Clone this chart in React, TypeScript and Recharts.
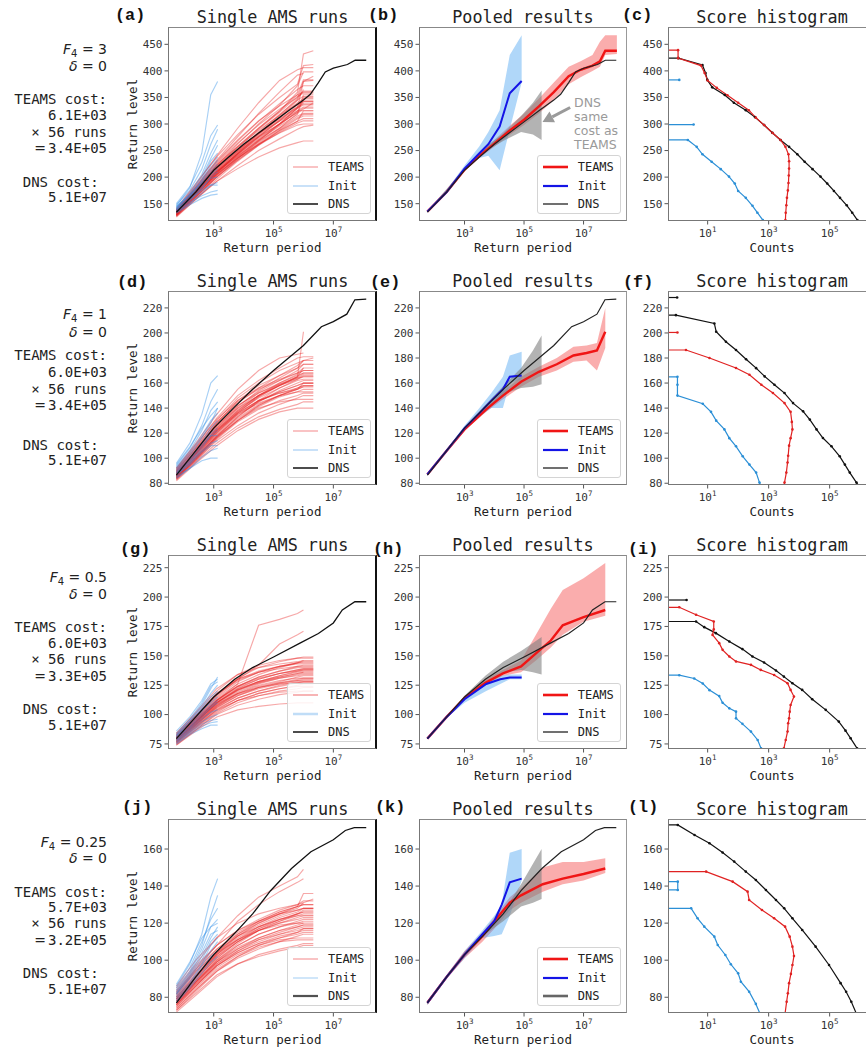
import React from 'react';
import { ComposedChart, Line, Area, XAxis, YAxis, ReferenceLine } from 'recharts';

// ---------------- layout / fonts ----------------
const MONO = '"DejaVu Sans Mono", monospace';
const SANS = '"DejaVu Sans", sans-serif';
const BOLDMONO = '"Liberation Mono", "Courier New", monospace';
const COL_X = [168, 419, 668];
const COL_W = [209, 208, 208];
const ROW_Y = [27, 291, 555, 819];
const BOX_H = 194;
const YW = 50, MT = 4, MR = 4, XH = 36;

// ---------------- text ----------------
const TITLES = ['Single AMS runs', 'Pooled results', 'Score histogram'];
const LETTERS = [['(a)', '(b)', '(c)'], ['(d)', '(e)', '(f)'], ['(g)', '(h)', '(i)'], ['(j)', '(k)', '(l)']];
const LETTER_X = [[115, 368, 622], [117, 370, 623], [120, 373, 628], [122, 375, 628]];
const LETTER_DY = [-11, -8.5, -5, -11];
const ROW_F4 = ['3', '1', '0.5', '0.25'];
const ROW_COST = ['6.1E+03', '6.0E+03', '6.0E+03', '5.7E+03'];
const ROW_TOTAL = ['3.4E+05', '3.4E+05', '3.3E+05', '3.2E+05'];
const DNS_COST = '5.1E+07';
const ROW_TEXT_DY = [
  [22, 39, 72, 88, 105, 121, 154.5, 170],
  [22.6, 41, 64.3, 81, 97.6, 114, 154, 169],
  [22, 39, 72, 88, 104, 121, 154, 170],
  [22.7, 39, 72.7, 88, 104, 121, 154, 170],
];

// ---------------- axes ----------------
const Y_DOMAINS: [number, number][] = [[117.4, 482.6], [78.6, 233.5], [70.7, 235.8], [71.5, 176.2]];
const Y_TICKS = [
  [150, 200, 250, 300, 350, 400, 450],
  [80, 100, 120, 140, 160, 180, 200, 220],
  [75, 100, 125, 150, 175, 200, 225],
  [80, 100, 120, 140, 160],
];
const RP_DOMAIN: [number, number] = [10 ** 1.47, 10 ** 8.46];
const RP_TICKS = [1e3, 1e5, 1e7];
const COUNT_DOMAIN: [number, number] = [10 ** -0.3, 10 ** 6.52];
const COUNT_TICKS = [1e1, 1e3, 1e5];

// ---------------- single AMS runs (log10 return period grids) ----------------
const RUN_LOGT = [1.75, 2.4, 3.1, 3.8, 4.5, 5.2, 5.8, 6.0, 6.33];
const INIT_LOGT = [1.75, 2.2, 2.6, 2.9, 3.13];

const RUNS_A_TEAMS = [
  [130, 168, 212, 248, 285, 318, 345, 352, 352],
  [134, 172, 215, 250, 282, 305, 325, 332, 332],
  [128, 162, 200, 232, 262, 288, 305, 310, 310],
  [138, 180, 228, 268, 305, 338, 365, 372, 372],
  [126, 158, 192, 222, 250, 272, 290, 295, 298],
  [136, 176, 222, 262, 300, 335, 372, 398, 398],
  [140, 186, 240, 292, 340, 382, 402, 406, 406],
  [132, 170, 210, 240, 268, 292, 320, 328, 340],
  [129, 164, 202, 235, 262, 283, 298, 300, 300],
  [133, 171, 214, 248, 276, 300, 322, 355, 355],
  [137, 178, 224, 258, 292, 325, 355, 383, 383],
  [127, 160, 192, 216, 238, 255, 265, 268, 268],
  [135, 174, 218, 252, 283, 310, 332, 345, 345],
  [139, 183, 230, 270, 306, 334, 355, 360, 360],
  [131, 168, 206, 238, 266, 292, 315, 320, 320],
  [134, 172, 210, 242, 272, 300, 330, 336, 336],
  [136, 178, 222, 258, 292, 324, 360, 432, 438],
  [128, 164, 204, 236, 264, 290, 312, 318, 318],
  [141, 188, 238, 280, 318, 350, 375, 410, 412],
  [130, 166, 206, 244, 280, 312, 340, 348, 348],
  [133, 170, 208, 240, 270, 298, 325, 325, 325],
  [125, 158, 196, 230, 260, 288, 310, 315, 315],
  [137, 180, 226, 264, 298, 328, 350, 362, 362],
  [132, 168, 205, 236, 262, 286, 305, 325, 325],
  [129, 166, 208, 246, 282, 316, 348, 380, 382],
  [135, 175, 220, 256, 288, 316, 338, 342, 342],
  [131, 166, 204, 238, 270, 296, 318, 350, 350],
  [136, 174, 212, 244, 276, 306, 330, 380, 390],
  [127, 162, 200, 234, 268, 300, 330, 340, null],
  [138, 176, 216, 250, 282, 312, 345, 365, null],
  [131, 169, 210, 245, 278, 308, 332, 338, 338],
  [135, 176, 220, 255, 290, 322, 352, 358, 358],
  [129, 163, 200, 232, 260, 284, 302, 306, 306],
  [137, 181, 232, 276, 320, 360, 392, 395, null],
  [133, 170, 211, 244, 274, 300, 322, 330, 330],
  [130, 167, 208, 242, 276, 306, 336, 342, 342],
];
const RUNS_A_INIT = [
  [140, 158, 175, 185, 190], [135, 152, 165, 172, 175], [132, 148, 160, 166, 168],
  [145, 165, 188, 205, 215], [138, 160, 185, 210, 225], [142, 168, 200, 235, 260],
  [148, 175, 215, 262, 290], [150, 182, 228, 278, 298], [136, 155, 178, 200, 210],
  [144, 170, 205, 245, 270], [146, 180, 245, 355, 380], [139, 162, 195, 230, 245],
  [141, 165, 190, 215, 232], [137, 158, 180, 198, 200], [143, 166, 192, 222, 238],
  [134, 150, 170, 185, 185],
];

const RUNS_D_TEAMS = [
  [86, 100, 118, 132, 143, 150, 155, 157, 157],
  [88, 104, 124, 140, 152, 160, 166, 168, 168],
  [84, 98, 114, 126, 136, 143, 148, 150, 150],
  [90, 108, 130, 148, 160, 170, 176, 178, 178],
  [83, 97, 112, 124, 133, 139, 143, 145, 145],
  [92, 112, 135, 155, 170, 180, 183, 184, null],
  [87, 103, 122, 138, 150, 159, 165, 172, 172],
  [85, 100, 118, 133, 145, 154, 160, 162, 162],
  [89, 106, 128, 146, 158, 166, 172, 175, 175],
  [82, 96, 110, 122, 131, 137, 140, 140, 140],
  [91, 110, 132, 150, 162, 172, 180, 181, 181],
  [86, 102, 120, 135, 146, 152, 156, 158, 158],
  [88, 105, 126, 142, 153, 162, 168, 170, 170],
  [84, 99, 116, 130, 141, 149, 153, 155, 155],
  [87, 104, 124, 139, 150, 158, 165, 201, null],
  [85, 101, 119, 134, 145, 153, 158, 160, 160],
  [90, 107, 127, 142, 152, 159, 164, 165, 165],
  [83, 98, 115, 129, 139, 146, 150, 152, 152],
  [89, 105, 123, 137, 148, 156, 162, 163, 163],
  [86, 101, 117, 130, 140, 145, 147, 147, 147],
  [92, 111, 131, 146, 156, 163, 168, 172, null],
  [87, 103, 121, 135, 144, 150, 153, 153, 153],
  [85, 101, 120, 136, 149, 158, 165, 168, 168],
  [88, 106, 128, 145, 155, 162, 170, 175, 175],
  [84, 100, 117, 131, 142, 150, 155, 160, 160],
  [90, 108, 126, 140, 150, 158, 163, 166, 166],
  [86, 103, 122, 136, 146, 152, 155, 157, null],
  [89, 105, 125, 141, 154, 164, 172, 178, 180],
  [87, 104, 123, 138, 150, 160, 167, 170, 170],
  [85, 99, 116, 130, 142, 150, 156, 158, 158],
  [91, 109, 129, 144, 156, 166, 174, 178, null],
  [84, 99, 117, 133, 146, 156, 163, 165, 165],
  [88, 104, 122, 136, 146, 153, 158, 160, 160],
  [86, 102, 121, 137, 149, 158, 164, 167, 167],
];
const RUNS_D_INIT = [
  [85, 92, 98, 100, 100], [88, 97, 106, 112, 114], [90, 100, 112, 120, 124],
  [92, 104, 118, 130, 136], [86, 96, 108, 118, 122], [94, 108, 126, 145, 155],
  [96, 112, 135, 160, 166], [89, 99, 112, 124, 130], [87, 95, 105, 110, 110],
  [91, 102, 116, 128, 140], [93, 106, 122, 138, 145], [84, 92, 101, 106, 108],
  [95, 109, 124, 134, 140], [88, 98, 110, 118, 118],
];

const RUNS_G_TEAMS = [
  [78, 92, 108, 118, 125, 129, 131, 131, 131],
  [80, 96, 114, 126, 134, 140, 144, 145, 145],
  [76, 89, 103, 112, 118, 122, 124, 124, 124],
  [82, 99, 118, 131, 140, 145, 148, 149, 149],
  [75, 87, 100, 108, 113, 117, 119, 120, 120],
  [79, 94, 112, 126, 176, 181, 186, 189, null],
  [81, 97, 116, 130, 142, 160, 168, 171, null],
  [77, 91, 106, 116, 123, 127, 129, 129, 129],
  [80, 95, 112, 124, 132, 137, 141, 142, 142],
  [78, 93, 110, 121, 128, 133, 136, 137, 137],
  [76, 90, 105, 114, 120, 124, 127, 128, 128],
  [84, 101, 120, 134, 142, 146, 148, 148, 148],
  [79, 94, 112, 124, 132, 137, 140, 140, 140],
  [77, 91, 107, 118, 124, 128, 132, 133, 133],
  [81, 97, 115, 128, 136, 141, 143, 143, 143],
  [74, 87, 101, 110, 116, 120, 122, 123, 123],
  [82, 98, 117, 130, 137, 141, 144, 146, 146],
  [78, 92, 108, 119, 126, 131, 134, 135, 135],
  [80, 95, 111, 122, 128, 132, 135, 136, null],
  [76, 89, 104, 114, 120, 125, 128, 128, 128],
  [83, 99, 118, 130, 136, 139, 141, 141, 141],
  [77, 90, 104, 112, 116, 119, 120, 120, 120],
  [79, 94, 110, 121, 127, 131, 133, 134, 134],
  [81, 96, 112, 123, 130, 135, 138, 139, 139],
  [75, 88, 102, 112, 118, 122, 125, 126, 126],
  [80, 94, 109, 118, 123, 126, 127, 127, 127],
  [84, 102, 122, 134, 140, 143, 145, 146, null],
  [78, 93, 110, 122, 130, 135, 137, 138, 138],
  [74, 86, 98, 104, 107, 109, 110, 110, 110],
  [79, 93, 109, 120, 127, 132, 135, 136, 136],
  [81, 96, 113, 124, 131, 135, 138, 139, 139],
  [77, 91, 106, 116, 122, 126, 129, 130, 130],
  [83, 99, 117, 129, 136, 141, 144, 144, 144],
  [78, 92, 107, 117, 123, 127, 130, 131, 131],
  [80, 94, 110, 121, 128, 133, 137, 138, 138],
];
const RUNS_G_INIT = [
  [78, 86, 94, 98, 100], [80, 90, 102, 112, 118], [82, 94, 108, 122, 132],
  [76, 84, 90, 93, 94], [79, 88, 98, 106, 110], [84, 96, 110, 124, 128],
  [77, 85, 92, 95, 96], [81, 92, 105, 115, 120], [83, 95, 106, 118, 125],
  [75, 83, 88, 91, 91], [80, 89, 100, 108, 112], [86, 98, 112, 126, 130],
  [78, 87, 96, 102, 104], [82, 92, 104, 110, 115],
];

const RUNS_J_TEAMS = [
  [76, 86, 97, 104, 109, 112, 114, 115, 115],
  [80, 91, 104, 114, 121, 126, 129, 130, 130],
  [73, 82, 92, 98, 102, 105, 107, 108, 108],
  [85, 98, 112, 124, 134, 140, 145, 149, null],
  [78, 89, 102, 111, 118, 123, 126, 128, 128],
  [82, 95, 108, 121, 130, 137, 142, 144, null],
  [75, 85, 96, 103, 108, 111, 112, 112, 112],
  [79, 90, 103, 113, 120, 125, 128, 131, 133],
  [77, 88, 100, 108, 114, 118, 120, 121, 121],
  [83, 95, 106, 114, 120, 125, 129, 136, 136],
  [74, 84, 95, 102, 107, 110, 111, 111, 111],
  [81, 93, 105, 113, 118, 122, 124, 124, 124],
  [76, 87, 99, 108, 114, 118, 121, 122, 122],
  [72, 81, 91, 98, 103, 106, 108, 109, 109],
  [79, 90, 101, 110, 117, 122, 125, 126, 126],
  [84, 97, 108, 116, 122, 127, 130, 132, 132],
  [77, 87, 97, 104, 109, 113, 115, 116, 116],
  [80, 91, 102, 110, 116, 119, 120, 120, 120],
  [75, 86, 98, 106, 112, 116, 119, 120, null],
  [82, 94, 104, 111, 116, 120, 122, 123, 123],
  [78, 88, 98, 105, 110, 114, 117, 118, 118],
  [86, 100, 112, 120, 125, 128, 130, 131, null],
  [74, 84, 94, 101, 106, 110, 113, 114, 114],
  [81, 92, 103, 111, 117, 121, 124, 125, 125],
  [76, 88, 100, 109, 116, 121, 125, 127, 127],
  [79, 89, 99, 106, 111, 114, 116, 117, 117],
  [83, 96, 108, 116, 121, 125, 127, 128, 128],
  [73, 83, 94, 102, 108, 112, 115, 117, 117],
  [78, 89, 101, 110, 116, 120, 123, 124, 124],
  [80, 92, 104, 113, 119, 124, 127, 128, 128],
  [76, 86, 97, 105, 111, 115, 118, 119, 119],
  [82, 94, 106, 115, 121, 126, 129, 130, 130],
  [77, 88, 99, 107, 112, 116, 118, 119, 119],
  [79, 91, 103, 112, 118, 122, 125, 126, 126],
];
const RUNS_J_INIT = [
  [80, 88, 98, 108, 112], [84, 94, 108, 124, 135], [78, 86, 95, 102, 105],
  [86, 98, 114, 134, 144], [82, 91, 102, 112, 118], [79, 87, 97, 105, 110],
  [83, 93, 106, 118, 122], [85, 96, 110, 122, 128], [81, 90, 100, 110, 114],
  [77, 85, 93, 99, 102], [87, 99, 112, 118, 120], [82, 92, 104, 114, 116],
];

// ---------------- DNS return-level curves ----------------
const DNS_LOGT_1 = [1.75, 2.4, 3, 3.5, 4, 4.5, 5, 5.5, 6, 6.23, 6.5, 6.73, 7.0, 7.47, 7.73, 8.1];
const DNS_LEVEL_1 = [134, 172, 213, 238, 262, 283, 304, 325, 345, 356, 378, 398, 405, 412, 420, 420];
const DNS_LOGT_2 = [1.75, 2.4, 3, 3.7, 4.3, 5.0, 5.5, 6.0, 6.6, 7.0, 7.45, 7.72, 8.1];
const DNS_LEVEL_2 = [86.5, 106, 124, 141, 155, 170, 180, 190, 205, 209, 215, 226.5, 227];
const DNS_LOGT_3 = [1.75, 2.4, 3, 3.7, 4.3, 5, 5.9, 6.5, 7.0, 7.3, 7.72, 8.1];
const DNS_LEVEL_3 = [79.5, 98, 115, 130, 140, 149, 161, 169, 178, 189, 196, 196];
const DNS_LOGT_4 = [1.75, 2.4, 3, 3.7, 4.3, 4.9, 5.6, 6.25, 7.0, 7.4, 7.7, 8.1];
const DNS_LEVEL_4 = [77, 91, 103, 114.5, 125, 137.5, 149.5, 158.5, 165, 170, 171.5, 171.5];

// ---------------- pooled results ----------------
const POOL_TEAMS_LOGT_1 = [1.75, 2.4, 3, 3.5, 4, 4.5, 5, 5.5, 6, 6.5, 6.9, 7.3, 7.55, 7.73, 8.12];
const POOL_TEAMS_MEAN_1 = [135, 172, 214, 240, 263, 287, 308, 333, 360, 390, 402, 410, 418, 438, 438];
const POOL_TEAMS_LO_1 = [134, 170, 211, 236, 257, 279, 298, 320, 345, 375, 388, 400, 408, 430, 432];
const POOL_TEAMS_HI_1 = [136, 174, 217, 245, 270, 296, 320, 348, 378, 408, 418, 430, 455, 467, 467];
const POOL_INIT_LOGT_1 = [1.75, 2.4, 3, 3.5, 3.8, 4.18, 4.52, 4.92];
const POOL_INIT_MEAN_1 = [135, 172, 216, 245, 262, 295, 358, 381];
const POOL_INIT_LO_1 = [133, 170, 212, 236, 240, 213, 290, 378];
const POOL_INIT_HI_1 = [137, 176, 222, 258, 285, 326, 430, 467];
const SAMECOST_LOGT_1 = [1.75, 3, 3.6, 4.3, 4.9, 5.3, 5.59];
const SAMECOST_LO_1 = [134, 212, 245, 268, 285, 280, 270];
const SAMECOST_HI_1 = [136, 216, 252, 282, 315, 340, 363];

const POOL_TEAMS_LOGT_2 = [1.75, 2.4, 3, 3.73, 4.29, 4.9, 5.5, 6.1, 6.66, 7.1, 7.45, 7.73];
const POOL_TEAMS_MEAN_2 = [87, 106, 123, 139, 150, 161, 169, 175, 182, 184, 186, 201];
const POOL_TEAMS_LO_2 = [86.5, 105, 122, 137, 147, 157, 165, 170, 177, 178, 170, 188];
const POOL_TEAMS_HI_2 = [87.5, 107, 125, 141, 153, 165, 173, 180, 189, 190, 192, 220];
const POOL_INIT_LOGT_2 = [1.75, 2.4, 3, 3.5, 3.9, 4.29, 4.52, 4.92];
const POOL_INIT_MEAN_2 = [87, 106, 124, 136, 146, 155, 165, 166];
const POOL_INIT_LO_2 = [86, 105, 122, 133, 140, 140, 160, 163];
const POOL_INIT_HI_2 = [88, 107, 126, 140, 152, 165, 182, 185];
const SAMECOST_LOGT_2 = [1.75, 3, 3.8, 4.4, 4.9, 5.3, 5.59];
const SAMECOST_LO_2 = [86, 123, 141, 152, 156, 157, 159];
const SAMECOST_HI_2 = [87, 125, 145, 160, 172, 186, 198];

const POOL_TEAMS_LOGT_3 = [1.75, 2.4, 3, 3.7, 4.29, 4.9, 5.4, 5.9, 6.3, 7.0, 7.73];
const POOL_TEAMS_MEAN_3 = [79.5, 98, 114, 127, 135, 141, 152, 163, 176, 183, 189];
const POOL_TEAMS_LO_3 = [79, 97, 113, 125, 133, 136, 146, 157, 168, 179, 184];
const POOL_TEAMS_HI_3 = [80, 99, 116, 130, 138, 146, 168, 190, 206, 216, 229];
const POOL_INIT_LOGT_3 = [1.75, 2.4, 3, 3.73, 4.2, 4.52, 4.92];
const POOL_INIT_MEAN_3 = [79.5, 98, 113, 126, 130, 131.5, 131.5];
const POOL_INIT_LO_3 = [79, 97, 110, 120, 126, 130, 130];
const POOL_INIT_HI_3 = [80, 99, 115, 128, 133, 134, 134];
const SAMECOST_LOGT_3 = [1.75, 3, 3.7, 4.3, 4.9, 5.3, 5.59];
const SAMECOST_LO_3 = [79, 114, 128, 136, 138, 136, 134];
const SAMECOST_HI_3 = [80, 116, 133, 145, 154, 161, 166];

const POOL_TEAMS_LOGT_4 = [1.75, 2.4, 3, 3.6, 4.0, 4.52, 4.9, 5.63, 6.3, 7.0, 7.73];
const POOL_TEAMS_MEAN_4 = [77, 91, 103, 113, 121, 131, 135, 141, 144, 146.5, 149.5];
const POOL_TEAMS_LO_4 = [76, 90, 101, 110, 117, 127, 131, 137, 141, 143, 147];
const POOL_TEAMS_HI_4 = [78, 92, 105, 115, 123, 134, 139, 150, 153, 153, 155];
const POOL_INIT_LOGT_4 = [1.75, 2.4, 3, 3.6, 4.0, 4.25, 4.52, 4.92];
const POOL_INIT_MEAN_4 = [77, 91, 103, 114, 121, 130, 142, 144];
const POOL_INIT_LO_4 = [76, 90, 101, 112, 113, 114, 124, 143];
const POOL_INIT_HI_4 = [78, 92, 105, 116, 124, 130, 158, 160];
const SAMECOST_LOGT_4 = [1.75, 3, 3.7, 4.3, 4.9, 5.3, 5.59];
const SAMECOST_LO_4 = [76, 103, 114, 121, 129, 131, 133];
const SAMECOST_HI_4 = [78, 104, 116, 126, 141, 152, 160];

// ---------------- score histograms (level, log10 count) ----------------
const HIST_DNS_LEVEL_1 = [105, 119, 133, 147, 161, 174, 188, 201, 215, 229, 243, 257, 270, 283.5, 298, 313, 326, 340, 354.5, 369, 383, 396, 411, 424, 424];
const HIST_DNS_LOGC_1 = [6.15, 5.91, 5.74, 5.56, 5.34, 5.14, 4.92, 4.70, 4.44, 4.18, 3.94, 3.67, 3.39, 3.12, 2.85, 2.55, 2.25, 1.86, 1.56, 1.15, 0.99, 0.93, 0.83, 0.04, -0.6];
const HIST_TEAMS_LEVEL_1 = [105, 119, 133, 147, 161, 175, 189, 203, 216, 230, 243, 257, 270, 283, 298, 312, 326, 340, 354, 368, 382, 396, 410, 424, 439, 439];
const HIST_TEAMS_LOGC_1 = [3.53, 3.55, 3.56, 3.58, 3.60, 3.63, 3.65, 3.66, 3.67, 3.67, 3.65, 3.55, 3.39, 3.13, 2.85, 2.58, 2.35, 2.0, 1.65, 1.3, 1.0, 0.9, 0.78, 0.03, 0.03, -0.6];
const HIST_INIT_LEVEL_1 = [105, 119, 133, 146, 161, 174, 188, 201, 215, 229, 243, 257, 270, 270];
const HIST_INIT_LOGC_1 = [2.95, 2.81, 2.63, 2.47, 2.25, 2.0, 1.89, 1.70, 1.43, 1.13, 0.83, 0.64, 0.35, -0.6];
const HIST_INIT_TOP_LEVEL_1 = [383, 383];
const HIST_INIT_TOP_LOGC_1 = [-0.6, 0.07];
const HIST_INIT_MID_LEVEL_1 = [299, 299];
const HIST_INIT_MID_LOGC_1 = [-0.6, 0.54];

const HIST_DNS_LEVEL_2 = [75, 80.5, 88.5, 94.9, 101.5, 109.5, 116.1, 123, 130.8, 137.4, 144, 152, 158.6, 165.3, 171.9, 179, 186.4, 193, 201, 207.6, 214.2, 214.2];
const HIST_DNS_LOGC_2 = [6.05, 5.88, 5.66, 5.5, 5.33, 5.06, 4.78, 4.57, 4.35, 4.13, 3.8, 3.52, 3.19, 2.87, 2.59, 2.26, 1.93, 1.6, 1.28, 1.22, -0.04, -0.6];
const HIST_DNS_TOP_LEVEL_2 = [228.3, 228.3];
const HIST_DNS_TOP_LOGC_2 = [-0.6, 0.0];
const HIST_TEAMS_LEVEL_2 = [75, 80.5, 88.5, 96.5, 102, 110, 116, 123, 129, 137, 144, 152, 158.6, 166.6, 172, 180, 186.4, 186.4];
const HIST_TEAMS_LOGC_2 = [3.5, 3.52, 3.58, 3.62, 3.64, 3.67, 3.72, 3.78, 3.76, 3.72, 3.52, 3.14, 2.76, 2.37, 1.93, 1.06, 0.29, -0.6];
const HIST_TEAMS_TOP_LEVEL_2 = [200.4, 200.4];
const HIST_TEAMS_TOP_LOGC_2 = [-0.6, 0.01];
const HIST_INIT_LEVEL_2 = [75, 80.5, 88.5, 94.9, 101.5, 109.5, 116, 123, 130, 137, 143.5, 150, 158.6, 165, 165];
const HIST_INIT_LOGC_2 = [2.8, 2.7, 2.59, 2.37, 2.15, 1.93, 1.71, 1.55, 1.28, 1.11, 0.84, 0.01, 0.01, 0.01, -0.6];

const HIST_DNS_LEVEL_3 = [65, 71.3, 79.8, 86.3, 94, 104, 113, 121, 126.7, 132.3, 137.5, 144.3, 149.4, 155.7, 162.2, 169.3, 174.4, 179.2, 179.2];
const HIST_DNS_LOGC_3 = [6.1, 5.9, 5.69, 5.52, 5.3, 4.87, 4.43, 4.1, 3.78, 3.5, 3.24, 2.85, 2.47, 2.14, 1.71, 1.27, 0.89, 0.62, -0.6];
const HIST_DNS_TOP_LEVEL_3 = [197.5, 197.5];
const HIST_DNS_TOP_LOGC_3 = [-0.6, 0.31];
const HIST_TEAMS_LEVEL_3 = [65, 71.3, 78.4, 85.5, 92.6, 96.8, 102.5, 108.2, 115.3, 121, 126.7, 133.7, 138, 142.3, 145.2, 149.4, 155.1, 160.8, 167.8, 172.5, 179.2, 185, 191.3, 191.3];
const HIST_TEAMS_LOGC_3 = [3.47, 3.5, 3.56, 3.62, 3.64, 3.67, 3.69, 3.72, 3.83, 3.72, 3.62, 3.18, 2.74, 2.42, 1.93, 1.71, 1.49, 1.38, 1.16, 1.2, 1.2, 0.62, 0.07, -0.6];
const HIST_INIT_LEVEL_3 = [65, 71.3, 78.4, 85.5, 92.1, 96.8, 102.5, 105.3, 110, 115.7, 120.8, 126.4, 130.7, 133.5, 133.5];
const HIST_INIT_LOGC_3 = [2.85, 2.75, 2.64, 2.42, 2.14, 1.93, 1.93, 1.71, 1.49, 1.38, 1.06, 0.84, 0.56, 0.07, -0.6];

const HIST_DNS_LEVEL_4 = [65, 71.4, 77.6, 83, 87.6, 97.4, 107.3, 116.3, 122.6, 128, 132.5, 137.9, 143.3, 147.8, 153.2, 158.1, 163.1, 167.6, 173, 173];
const HIST_DNS_LOGC_4 = [6.05, 5.87, 5.71, 5.54, 5.36, 4.98, 4.54, 4.1, 3.78, 3.51, 3.24, 2.91, 2.58, 2.25, 1.87, 1.49, 1.06, 0.57, 0.02, -0.6];
const HIST_TEAMS_LEVEL_4 = [65, 71.4, 77.6, 82.1, 87.6, 92.6, 97.4, 102.3, 107.3, 112.7, 118.1, 122.6, 127.1, 132.5, 137, 142.4, 147.8, 147.8];
const HIST_TEAMS_LOGC_4 = [3.5, 3.54, 3.59, 3.63, 3.67, 3.73, 3.78, 3.83, 3.78, 3.69, 3.54, 3.18, 2.78, 2.36, 2.31, 1.82, 0.95, -0.6];
const HIST_INIT_LEVEL_4 = [65, 71.4, 76.4, 83, 88.4, 92.9, 97.8, 102.8, 108.2, 112.7, 118.1, 122.6, 128, 128];
const HIST_INIT_LOGC_4 = [2.8, 2.71, 2.58, 2.36, 2.09, 2.0, 1.76, 1.58, 1.33, 1.22, 0.89, 0.67, 0.46, -0.6];
const HIST_INIT_TOP_LEVEL_4 = [142.4, 142.4, 137.9, 137.9];
const HIST_INIT_TOP_LOGC_4 = [-0.6, 0.02, 0.02, -0.6];

// ---------------- annotation (panel b) ----------------
const ARROW_FROM = { logT: 6.55, level: 331 };
const ARROW_TO = { logT: 5.62, level: 304 };
const ANNOT_LINES = ['DNS', 'same', 'cost as', 'TEAMS'];

// ---------------- colours ----------------
const RED = '#e8191b';
const BLUE_RUN = '#2f8fe6';
const POOL_RED = '#f01515';
const POOL_BLUE = '#1414e6';
const HIST_RED = '#e02222';
const HIST_BLUE = '#2b8fd6';

// ---------------- helpers ----------------
type P = { x: number; y: number | null };
const rp = (logT: number[], ys: (number | null)[]): P[] =>
  logT.map((l, i) => ({ x: Math.pow(10, l), y: ys[i] })).filter((p) => p.y !== null && p.y !== undefined);
const band = (logT: number[], lo: number[], hi: number[]) =>
  logT.map((l, i) => ({ x: Math.pow(10, l), r: [lo[i], hi[i]] }));
const hist = (logc: number[], level: number[]) => logc.map((c, i) => ({ x: Math.pow(10, c), y: level[i] }));

const LogTick = (props: any) => {
  const { x, y, payload } = props;
  const e = Math.round(Math.log10(payload.value));
  return (
    <text x={x} y={y + 10} textAnchor="middle" fontSize={11} fontFamily={MONO} fill="#333">
      10<tspan dy={-5} fontSize={7.5}>{e}</tspan>
    </text>
  );
};

const ArrowShape = (p: any) => {
  const { x1, y1, x2, y2 } = p;
  const ang = Math.atan2(y2 - y1, x2 - x1);
  const L = 11, W = 6;
  const bx = x2 - L * Math.cos(ang), by = y2 - L * Math.sin(ang);
  const nx = -Math.sin(ang), ny = Math.cos(ang);
  return (
    <g>
      <line x1={x1} y1={y1} x2={bx} y2={by} stroke="#9a9a9a" strokeWidth={3} />
      <polygon points={`${x2},${y2} ${bx + nx * W},${by + ny * W} ${bx - nx * W},${by - ny * W}`} fill="#9a9a9a" />
    </g>
  );
};

function Frame(props: { col: number; row: number; xLabel: string; children: React.ReactNode }) {
  const { col, row, xLabel, children } = props;
  const w = COL_W[col];
  const isCount = col === 2;
  return (
    <div style={{ position: 'absolute', left: COL_X[col] - YW, top: ROW_Y[row] - MT, width: YW + w + MR, height: MT + BOX_H + XH }}>
      <ComposedChart width={YW + w + MR} height={MT + BOX_H + XH} margin={{ top: MT, right: MR, bottom: 0, left: 0 }}>
        <XAxis
          type="number"
          dataKey="x"
          scale="log"
          domain={isCount ? COUNT_DOMAIN : RP_DOMAIN}
          ticks={isCount ? COUNT_TICKS : RP_TICKS}
          interval={0}
          allowDataOverflow
          height={XH}
          axisLine={false}
          tickSize={3.5}
          tickLine={{ stroke: '#555' }}
          tick={(p: any) => <LogTick {...p} />}
          label={{ value: xLabel, position: 'insideBottom', offset: 5, style: { fontSize: 12.5, fontFamily: MONO, fill: '#222' } }}
        />
        <YAxis
          type="number"
          domain={Y_DOMAINS[row]}
          ticks={Y_TICKS[row]}
          interval={0}
          allowDataOverflow
          width={YW}
          axisLine={false}
          tickSize={3.5}
          tickLine={{ stroke: '#555' }}
          tick={{ fontSize: 11, fontFamily: MONO, fill: '#333' }}
          label={
            col === 0
              ? { value: 'Return level', angle: -90, position: 'insideLeft', offset: 15, style: { fontSize: 12.5, fontFamily: MONO, fill: '#222', textAnchor: 'middle' } }
              : undefined
          }
        />
        {children}
      </ComposedChart>
      <div
        style={{
          position: 'absolute', left: YW, top: MT, width: w, height: BOX_H, boxSizing: 'border-box',
          borderLeft: '1px solid #777', borderTop: '1px solid #888', borderBottom: '1px solid #777',
          borderRight: col === 0 ? '2px solid #111' : '1px solid #999', pointerEvents: 'none',
        }}
      />
    </div>
  );
}

type LegItem = { label: string; color: string; w: number; op: number };
function LegendBox({ x, y, items }: { x: number; y: number; items: LegItem[] }) {
  return (
    <div style={{ position: 'absolute', left: x, top: y, width: 84, height: 59, background: 'rgba(255,255,255,0.85)', border: '1px solid #d4d4d4', borderRadius: 3, boxSizing: 'border-box' }}>
      {items.map((it, i) => (
        <div key={i} style={{ position: 'absolute', left: 0, top: 3 + i * 18.5, width: 82, height: 16 }}>
          <svg width={30} height={16} style={{ position: 'absolute', left: 5, top: 0 }}>
            <line x1={0} x2={25} y1={8} y2={8} stroke={it.color} strokeWidth={it.w} strokeOpacity={it.op} />
          </svg>
          <span style={{ position: 'absolute', left: 40, top: 0, lineHeight: '16px', fontSize: 12, fontFamily: MONO, color: '#222' }}>{it.label}</span>
        </div>
      ))}
    </div>
  );
}

const RUNS_TEAMS = [RUNS_A_TEAMS, RUNS_D_TEAMS, RUNS_G_TEAMS, RUNS_J_TEAMS];
const RUNS_INIT = [RUNS_A_INIT, RUNS_D_INIT, RUNS_G_INIT, RUNS_J_INIT];
const DNS_LOGT = [DNS_LOGT_1, DNS_LOGT_2, DNS_LOGT_3, DNS_LOGT_4];
const DNS_LEVEL = [DNS_LEVEL_1, DNS_LEVEL_2, DNS_LEVEL_3, DNS_LEVEL_4];
const POOL = [
  { tl: POOL_TEAMS_LOGT_1, tm: POOL_TEAMS_MEAN_1, tlo: POOL_TEAMS_LO_1, thi: POOL_TEAMS_HI_1, il: POOL_INIT_LOGT_1, im: POOL_INIT_MEAN_1, ilo: POOL_INIT_LO_1, ihi: POOL_INIT_HI_1, sl: SAMECOST_LOGT_1, slo: SAMECOST_LO_1, shi: SAMECOST_HI_1 },
  { tl: POOL_TEAMS_LOGT_2, tm: POOL_TEAMS_MEAN_2, tlo: POOL_TEAMS_LO_2, thi: POOL_TEAMS_HI_2, il: POOL_INIT_LOGT_2, im: POOL_INIT_MEAN_2, ilo: POOL_INIT_LO_2, ihi: POOL_INIT_HI_2, sl: SAMECOST_LOGT_2, slo: SAMECOST_LO_2, shi: SAMECOST_HI_2 },
  { tl: POOL_TEAMS_LOGT_3, tm: POOL_TEAMS_MEAN_3, tlo: POOL_TEAMS_LO_3, thi: POOL_TEAMS_HI_3, il: POOL_INIT_LOGT_3, im: POOL_INIT_MEAN_3, ilo: POOL_INIT_LO_3, ihi: POOL_INIT_HI_3, sl: SAMECOST_LOGT_3, slo: SAMECOST_LO_3, shi: SAMECOST_HI_3 },
  { tl: POOL_TEAMS_LOGT_4, tm: POOL_TEAMS_MEAN_4, tlo: POOL_TEAMS_LO_4, thi: POOL_TEAMS_HI_4, il: POOL_INIT_LOGT_4, im: POOL_INIT_MEAN_4, ilo: POOL_INIT_LO_4, ihi: POOL_INIT_HI_4, sl: SAMECOST_LOGT_4, slo: SAMECOST_LO_4, shi: SAMECOST_HI_4 },
];
type Piece = { logc: number[]; level: number[]; color: string };
const HISTS: Piece[][] = [
  [
    { logc: HIST_INIT_LOGC_1, level: HIST_INIT_LEVEL_1, color: HIST_BLUE },
    { logc: HIST_INIT_TOP_LOGC_1, level: HIST_INIT_TOP_LEVEL_1, color: HIST_BLUE },
    { logc: HIST_INIT_MID_LOGC_1, level: HIST_INIT_MID_LEVEL_1, color: HIST_BLUE },
    { logc: HIST_DNS_LOGC_1, level: HIST_DNS_LEVEL_1, color: '#111' },
    { logc: HIST_TEAMS_LOGC_1, level: HIST_TEAMS_LEVEL_1, color: HIST_RED },
  ],
  [
    { logc: HIST_INIT_LOGC_2, level: HIST_INIT_LEVEL_2, color: HIST_BLUE },
    { logc: HIST_DNS_LOGC_2, level: HIST_DNS_LEVEL_2, color: '#111' },
    { logc: HIST_DNS_TOP_LOGC_2, level: HIST_DNS_TOP_LEVEL_2, color: '#111' },
    { logc: HIST_TEAMS_LOGC_2, level: HIST_TEAMS_LEVEL_2, color: HIST_RED },
    { logc: HIST_TEAMS_TOP_LOGC_2, level: HIST_TEAMS_TOP_LEVEL_2, color: HIST_RED },
  ],
  [
    { logc: HIST_INIT_LOGC_3, level: HIST_INIT_LEVEL_3, color: HIST_BLUE },
    { logc: HIST_DNS_LOGC_3, level: HIST_DNS_LEVEL_3, color: '#111' },
    { logc: HIST_DNS_TOP_LOGC_3, level: HIST_DNS_TOP_LEVEL_3, color: '#111' },
    { logc: HIST_TEAMS_LOGC_3, level: HIST_TEAMS_LEVEL_3, color: HIST_RED },
  ],
  [
    { logc: HIST_INIT_LOGC_4, level: HIST_INIT_LEVEL_4, color: HIST_BLUE },
    { logc: HIST_INIT_TOP_LOGC_4, level: HIST_INIT_TOP_LEVEL_4, color: HIST_BLUE },
    { logc: HIST_DNS_LOGC_4, level: HIST_DNS_LEVEL_4, color: '#111' },
    { logc: HIST_TEAMS_LOGC_4, level: HIST_TEAMS_LEVEL_4, color: HIST_RED },
  ],
];

const SINGLE_LEGENDS: LegItem[][] = [
  [{ label: 'TEAMS', color: RED, w: 1.3, op: 0.4 }, { label: 'Init', color: BLUE_RUN, w: 1.3, op: 0.4 }, { label: 'DNS', color: '#111', w: 1.5, op: 1 }],
  [{ label: 'TEAMS', color: RED, w: 1.3, op: 0.4 }, { label: 'Init', color: BLUE_RUN, w: 1.3, op: 0.4 }, { label: 'DNS', color: '#111', w: 1.5, op: 1 }],
  [{ label: 'TEAMS', color: RED, w: 1.3, op: 0.5 }, { label: 'Init', color: BLUE_RUN, w: 2.5, op: 0.3 }, { label: 'DNS', color: '#111', w: 1.5, op: 1 }],
  [{ label: 'TEAMS', color: RED, w: 1.3, op: 0.4 }, { label: 'Init', color: BLUE_RUN, w: 1.3, op: 0.35 }, { label: 'DNS', color: '#333', w: 2.2, op: 0.85 }],
];
const POOL_LEGENDS: LegItem[][] = [
  [{ label: 'TEAMS', color: POOL_RED, w: 2.6, op: 1 }, { label: 'Init', color: POOL_BLUE, w: 2.2, op: 1 }, { label: 'DNS', color: '#222', w: 1.3, op: 1 }],
  [{ label: 'TEAMS', color: POOL_RED, w: 2.6, op: 1 }, { label: 'Init', color: POOL_BLUE, w: 2.2, op: 1 }, { label: 'DNS', color: '#222', w: 1.3, op: 1 }],
  [{ label: 'TEAMS', color: POOL_RED, w: 2.6, op: 1 }, { label: 'Init', color: POOL_BLUE, w: 2.2, op: 1 }, { label: 'DNS', color: '#222', w: 1.3, op: 1 }],
  [{ label: 'TEAMS', color: POOL_RED, w: 2.6, op: 1 }, { label: 'Init', color: POOL_BLUE, w: 2.2, op: 1 }, { label: 'DNS', color: '#666', w: 2.6, op: 1 }],
];

function RowText({ row }: { row: number }) {
  const top = ROW_Y[row];
  const d = ROW_TEXT_DY[row];
  const base: React.CSSProperties = { position: 'absolute', left: 0, width: 107, textAlign: 'right', fontSize: 14, lineHeight: '16px', whiteSpace: 'pre', color: '#222' };
  const at = (i: number) => ({ ...base, top: top + d[i] - 8 });
  return (
    <>
      <div style={{ ...at(0), fontFamily: SANS }}>
        <i>F</i><span style={{ fontSize: 10, position: 'relative', top: 3 }}>4</span> = {ROW_F4[row]}
      </div>
      <div style={{ ...at(1), fontFamily: SANS }}>
        <i>δ</i> = 0
      </div>
      <div style={{ ...at(2), fontFamily: MONO }}>TEAMS cost:</div>
      <div style={{ ...at(3), fontFamily: MONO }}>{ROW_COST[row]}</div>
      <div style={{ ...at(4), fontFamily: MONO }}>× 56 runs</div>
      <div style={{ ...at(5), fontFamily: MONO }}>
        <span style={{ fontFamily: SANS, marginRight: 2 }}>=</span>{ROW_TOTAL[row]}
      </div>
      <div style={{ ...at(6), fontFamily: MONO }}>{'DNS cost: '}</div>
      <div style={{ ...at(7), fontFamily: MONO }}>{DNS_COST}</div>
    </>
  );
}

export default function App() {
  return (
    <div style={{ position: 'absolute', left: 0, top: 0, width: 866, height: 1048, overflow: 'hidden', background: '#fff' }}>
      {[0, 1, 2, 3].map((row) => {
        const top = ROW_Y[row];
        const P = POOL[row];
        return (
          <React.Fragment key={row}>
            <RowText row={row} />
            {[0, 1, 2].map((col) => (
              <React.Fragment key={col}>
                <div style={{ position: 'absolute', left: COL_X[col], width: COL_W[col], top: top - 10.5 - 10, height: 20, lineHeight: '20px', textAlign: 'center', fontFamily: MONO, fontSize: 16.8, color: '#222', whiteSpace: 'pre' }}>
                  {TITLES[col]}
                </div>
                <div style={{ position: 'absolute', left: LETTER_X[row][col], top: top + LETTER_DY[row] - 10, height: 20, lineHeight: '20px', fontFamily: BOLDMONO, fontWeight: 'bold', fontSize: 16.8, color: '#111' }}>
                  {LETTERS[row][col]}
                </div>
              </React.Fragment>
            ))}

            {/* single AMS runs */}
            <Frame col={0} row={row} xLabel="Return period">
              {RUNS_TEAMS[row].map((ys, i) => (
                <Line key={'t' + i} data={rp(RUN_LOGT, ys)} dataKey="y" type="linear" stroke={RED} strokeOpacity={0.38} strokeWidth={1.15} dot={false} isAnimationActive={false} />
              ))}
              {RUNS_INIT[row].map((ys, i) => (
                <Line key={'i' + i} data={rp(INIT_LOGT, ys)} dataKey="y" type="linear" stroke={BLUE_RUN} strokeOpacity={0.42} strokeWidth={1.15} dot={false} isAnimationActive={false} />
              ))}
              <Line key="dns" data={rp(DNS_LOGT[row], DNS_LEVEL[row])} dataKey="y" type="linear" stroke="#111" strokeWidth={1.3} dot={false} isAnimationActive={false} />
            </Frame>
            <LegendBox x={COL_X[0] + 119} y={top + 128} items={SINGLE_LEGENDS[row]} />

            {/* pooled results */}
            <Frame col={1} row={row} xLabel="Return period">
              <Area key="tb" data={band(P.tl, P.tlo, P.thi)} dataKey="r" type="linear" stroke="none" fill={POOL_RED} fillOpacity={0.35} isAnimationActive={false} />
              <Area key="ib" data={band(P.il, P.ilo, P.ihi)} dataKey="r" type="linear" stroke="none" fill="#3a9cf0" fillOpacity={0.4} isAnimationActive={false} />
              <Area key="sb" data={band(P.sl, P.slo, P.shi)} dataKey="r" type="linear" stroke="none" fill="#808080" fillOpacity={0.6} isAnimationActive={false} />
              <Line key="tm" data={rp(P.tl, P.tm)} dataKey="y" type="linear" stroke={POOL_RED} strokeWidth={2.4} dot={false} isAnimationActive={false} />
              <Line key="im" data={rp(P.il, P.im)} dataKey="y" type="linear" stroke={POOL_BLUE} strokeWidth={2} dot={false} isAnimationActive={false} />
              <Line key="dns" data={rp(DNS_LOGT[row], DNS_LEVEL[row])} dataKey="y" type="linear" stroke="#222" strokeWidth={1.2} dot={false} isAnimationActive={false} />
              {row === 0 ? (
                <ReferenceLine
                  key="arrow"
                  segment={[
                    { x: Math.pow(10, ARROW_FROM.logT), y: ARROW_FROM.level },
                    { x: Math.pow(10, ARROW_TO.logT), y: ARROW_TO.level },
                  ]}
                  shape={(p: any) => <ArrowShape {...p} />}
                  ifOverflow="visible"
                />
              ) : null}
            </Frame>
            <LegendBox x={COL_X[1] + 117.7} y={top + 128} items={POOL_LEGENDS[row]} />
            {row === 0
              ? ANNOT_LINES.map((t, i) => (
                  <div key={'an' + i} style={{ position: 'absolute', left: 574, top: [103, 117, 131, 145][i] - 8, lineHeight: '16px', fontSize: 12.5, fontFamily: SANS, color: '#9a9a9a', whiteSpace: 'pre' }}>
                    {t}
                  </div>
                ))
              : null}

            {/* score histogram */}
            <Frame col={2} row={row} xLabel="Counts">
              {HISTS[row].map((pc, i) => (
                <Line
                  key={'h' + i}
                  data={hist(pc.logc, pc.level)}
                  dataKey="y"
                  type="linear"
                  stroke={pc.color}
                  strokeWidth={1.2}
                  dot={{ r: 1.3, fill: pc.color, stroke: 'none' }}
                  isAnimationActive={false}
                />
              ))}
            </Frame>
          </React.Fragment>
        );
      })}
    </div>
  );
}
